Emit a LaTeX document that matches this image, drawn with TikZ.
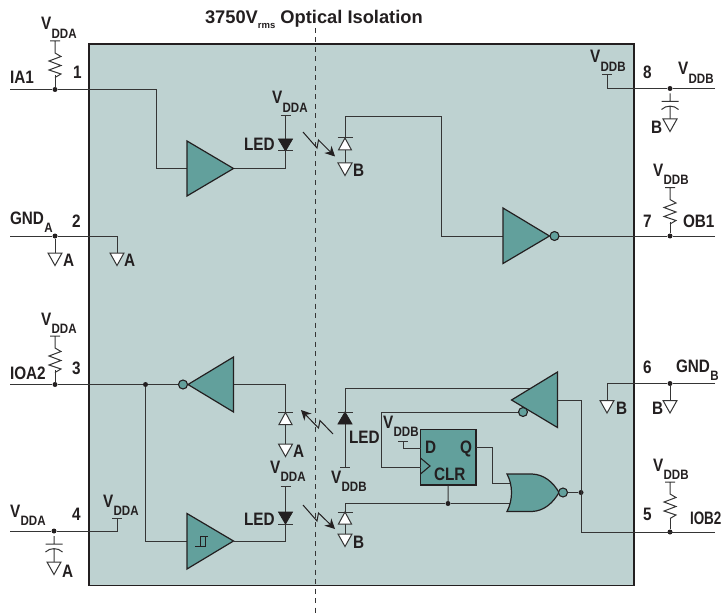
\documentclass[tikz,border=0pt]{standalone}
\usepackage{fontspec}
\setmainfont{Liberation Sans}
\newfontfamily\narrowf{Liberation Sans}[FakeStretch=0.85]
\usetikzlibrary{arrows.meta}
\definecolor{panel}{HTML}{BED2D1}
\definecolor{teal}{HTML}{62A09C}
\definecolor{ink}{HTML}{231F20}
\definecolor{wirec}{HTML}{353535}
\newcommand{\Vsub}[2]{#1{\fontsize{13.6}{15}\selectfont\kern0.4pt\raisebox{-8.5pt}{#2}}}
\tikzset{
  lab/.style={anchor=base west,inner sep=0pt,outer sep=0pt,text=ink,font=\narrowf\bfseries\fontsize{18}{19}\selectfont},
  ttl/.style={anchor=base west,inner sep=0pt,outer sep=0pt,text=ink,font=\bfseries\fontsize{18.3}{19}\selectfont},
  wire/.style={draw=wirec,line width=1pt,line join=miter},
  gate/.style={draw=ink,fill=teal,line width=1.2pt,line join=miter},
  dotm/.style={circle,fill=ink,inner sep=0pt,minimum size=5pt},
  bub/.style={circle,draw=ink,fill=teal,line width=1.1pt,inner sep=0pt,minimum size=9pt},
  lit/.style={draw=ink,line width=1pt,-{Stealth[length=10pt,width=10pt]}},
  railbar/.pic={\draw[wire] (-5,0) -- (5,0);},
  gndtri/.pic={\draw[draw=wirec,line width=1pt,fill=white,line join=miter] (-7,0) -- (7,0) -- (0,12.5) -- cycle;},
  resist/.pic={\draw[wire] (-5,0) -- (5,0) (0,0) -- (0,12) -- (6,15.5) -- (-6,20) -- (6,24.5) -- (-6,29) -- (6,33) -- (0,36.5);},
  capac/.pic={\draw[draw=wirec,line width=1pt] (-8.5,0) -- (8.5,0) (0,-8) -- (0,0) (-8.5,8) .. controls (-4,3.5) and (4,3.5) .. (8.5,8) (0,4.5) -- (0,18);},
  ledup/.pic={\draw[draw=ink,fill=ink,line width=.8pt] (-7,12) -- (7,12) -- (0,0) -- cycle; \draw[draw=wirec,line width=1pt] (-7.5,0) -- (7.5,0);},
  leddn/.pic={\draw[draw=ink,fill=ink,line width=.8pt] (-7,0) -- (7,0) -- (0,12) -- cycle; \draw[draw=wirec,line width=1pt] (-7.5,12) -- (7.5,12);},
  phot/.pic={\draw[draw=wirec,line width=1pt,fill=white] (-6.5,12) -- (6.5,12) -- (0,0) -- cycle; \draw[draw=wirec,line width=1pt] (-7.5,0) -- (7.5,0);}
}
\begin{document}
\begin{tikzpicture}[x=1pt,y=-1pt]
\useasboundingbox (0,0) rectangle (723,615);
% panel
\draw[draw=ink,fill=panel,line width=1.3pt] (89,44) rectangle (634,585.5);
\coordinate (isoT) at (315,28);
\coordinate (isoB) at (315,615);
\draw[draw=wirec,line width=1pt,dash pattern=on 5pt off 4.5pt] (isoT) -- (isoB);

% terminals
\coordinate (p1) at (10,89.5);
\coordinate (p2) at (10,236);
\coordinate (p3) at (10,384.5);
\coordinate (p4) at (10,531);
\coordinate (p8) at (715,88.5);
\coordinate (p7) at (715,236);
\coordinate (p6) at (715,383.5);
\coordinate (p5) at (715,532);

% dots
\node[dotm] (d1) at (55,89.5) {};
\node[dotm] (d2) at (55,236) {};
\node[dotm] (d3) at (55,384.5) {};
\node[dotm] (d3b) at (145.5,384.5) {};
\node[dotm] (d4) at (54,531) {};
\node[dotm] (d8) at (670,88.5) {};
\node[dotm] (d7) at (670,236) {};
\node[dotm] (d6) at (670,383.5) {};
\node[dotm] (d5) at (670,532) {};
\node[dotm] (dq) at (448,503.5) {};
\node[dotm] (dn) at (581,492.5) {};

% rails
\coordinate (r1) at (55,41);
\coordinate (r3) at (55,336);
\coordinate (rled1) at (285.5,115.5);
\coordinate (rled2) at (285.5,486);
\coordinate (r4in) at (117,518);
\coordinate (r8in) at (607,75);
\coordinate (r7) at (670,187.5);
\coordinate (r5) at (670,482);
\coordinate (rledb) at (345,467);
\coordinate (rff) at (403,441);

% grounds
\coordinate (g2) at (55,253);
\coordinate (g2in) at (117,253);
\coordinate (g6in) at (607,400.5);
\coordinate (g6) at (670,400.5);
\coordinate (gp1) at (345,163);
\coordinate (gp2) at (285.5,444);
\coordinate (gp3) at (345,534);
\coordinate (c8) at (670,101.5);
\coordinate (c4) at (54,544);

% gate terminals
\coordinate (b1in) at (187,168.5);
\coordinate (b1out) at (233.5,168.5);
\coordinate (i1in) at (503,236);
\coordinate (i2out) at (233.5,384.5);
\coordinate (b2in) at (187,541);
\coordinate (b2out) at (233.5,541);
\coordinate (i3in) at (531,388);
\coordinate (i3out) at (557.5,400);
\coordinate (norA) at (510,483);
\coordinate (norB) at (510,503.5);

% flip-flop
\node[gate,rectangle,minimum width=55.5pt,minimum height=55.5pt,inner sep=0pt] (ff) at (448.2,457.2) {};
\coordinate (ffD) at (420.5,448);
\coordinate (ffQ) at (476,447.5);
\coordinate (ffC) at (420.5,467);

% wires
\draw[wire] (p1) -- (d1) -- (156.5,89.5) -- (156.5,168.5) -- (b1in);
\draw[wire] (b1out) -- (285.5,168.5) -- (rled1);
\draw[wire] (345,163) -- (345,117) -- (441,117) -- (441,236) -- (i1in);
\draw[wire] (p7) -- (d7) -- (555,236);
\draw[wire] (p2) -- (d2) -- (117,236) -- (g2in);
\draw[wire] (d2) -- (g2);
\draw[wire] (p3) -- (d3) -- (d3b) -- (183,384.5);
\draw[wire] (d3b) -- (145.5,541) -- (b2in);
\draw[wire] (i2out) -- (285.5,384.5) -- (gp2);
\draw[wire] (b2out) -- (285.5,541) -- (rled2);
\draw[wire] (p4) -- (d4) -- (117,531) -- (r4in);
\draw[wire] (p8) -- (d8) -- (607,88.5) -- (r8in);
\draw[wire] (p6) -- (d6) -- (607,383.5) -- (g6in);
\draw[wire] (d6) -- (g6);
\draw[wire] (rledb) -- (345,388) -- (i3in);
\draw[wire] (523,412) -- (381.5,412) -- (381.5,467) -- (ffC);
\draw[wire] (ffD) -- (403,448) -- (rff);
\draw[wire] (ffQ) -- (492.5,447.5) -- (492.5,483) -- (norA);
\draw[wire] (ff.south) -- (dq);
\draw[wire] (gp3) -- (345,503.5) -- (dq) -- (norB);
\draw[wire] (i3out) -- (581,400) -- (581,532) -- (p5);
\draw[wire] (563,492.5) -- (dn);
\draw[wire] (d1) -- (55,75);
\draw[wire] (d3) -- (55,370);
\draw[wire] (d7) -- (670,222);
\draw[wire] (d5) -- (670,518);

% rails and parts
\pic at (r1) {resist};
\pic at (r3) {resist};
\pic at (r7) {resist};
\pic at (r5) {resist};
\pic at (rled1) {railbar};
\pic at (rled2) {railbar};
\pic at (r4in) {railbar};
\pic at (r8in) {railbar};
\pic at (rledb) {railbar};
\pic at (rff) {railbar};
\pic at (c8) {capac};
\pic at (c4) {capac};
\pic at (g2) {gndtri};
\pic at (g2in) {gndtri};
\pic at (g6in) {gndtri};
\pic at (g6) {gndtri};
\pic at (gp1) {gndtri};
\pic at (gp2) {gndtri};
\pic at (gp3) {gndtri};
\pic at (54,562) {gndtri};
\pic at (670,119) {gndtri};
\pic at (285.5,139) {leddn};
\pic at (285.5,512) {leddn};
\pic at (345,412) {ledup};
\pic at (345,138) {phot};
\pic at (285.5,412.5) {phot};
\pic at (345,512) {phot};

% light arrows
\coordinate (a1t) at (303,132); \coordinate (a1h) at (335,156.5);
\coordinate (a2t) at (333,434); \coordinate (a2h) at (301,410);
\coordinate (a3t) at (303,505); \coordinate (a3h) at (335,529);
\draw[lit] (a1t) -- (317,148) -- (318.5,140) -- (a1h);
\draw[lit] (a2t) -- (320,420.5) -- (318.5,428) -- (a2h);
\draw[lit] (a3t) -- (317,521) -- (318.5,513) -- (a3h);

% gates
\draw[gate] (b1in) -- (187,141) -- (b1out) -- (187,196) -- cycle;
\draw[gate] (i1in) -- (503,208) -- (549.5,236) -- (503,263.5) -- cycle;
\draw[gate] (i2out) -- (233.5,357) -- (188,384.5) -- (233.5,412) -- cycle;
\draw[gate] (b2in) -- (187,513.5) -- (b2out) -- (187,569) -- cycle;
\draw[gate] (557.5,372) -- (511.5,400) -- (557.5,427.5) -- cycle;
\draw[gate] (507,474) .. controls (513,485) and (513,500) .. (507,511.5)
  -- (532,511.5) .. controls (544,511) and (553,503) .. (559,492.5)
  .. controls (553,482) and (544,474.5) .. (532,474) -- cycle;
\draw[draw=ink,line width=1pt] (195,546.5) -- (205,546.5) -- (205,536) -- (200,536) -- (200,546.5) (205,536) -- (208,536);
\draw[draw=ink,line width=1.1pt,line join=miter] (420.5,458) -- (430,466) -- (420.5,474);
\node[bub] (bi1) at (554.5,236) {};
\node[bub] (bi2) at (183,384.5) {};
\node[bub] (bi3) at (523,412) {};
\node[bub] (bnor) at (563,492.5) {};

% labels
\node[ttl] (title) at (205,24) {3750V{\fontsize{9.5}{10}\selectfont\raisebox{-5pt}{rms}} Optical Isolation};
\node[lab] (t1) at (41,30) {\Vsub{V}{DDA}};
\node[lab] (t2) at (73,79) {1};
\node[lab] (t3) at (10,84) {IA1};
\node[lab] (t4) at (272,104) {\Vsub{V}{DDA}};
\node[lab] (t5) at (244,151) {LED};
\node[lab] (t6) at (353,177) {B};
\node[lab] (t7) at (10,224) {\Vsub{GND}{A}};
\node[lab] (t8) at (72,227) {2};
\node[lab] (t9) at (63,266) {A};
\node[lab] (t10) at (124,266) {A};
\node[lab] (t11) at (590,63) {\Vsub{V}{DDB}};
\node[lab] (t12) at (643,79) {8};
\node[lab] (t13) at (678,75) {\Vsub{V}{DDB}};
\node[lab] (t14) at (651,134) {B};
\node[lab] (t15) at (653,176) {\Vsub{V}{DDB}};
\node[lab] (t16) at (643,227) {7};
\node[lab] (t17) at (683,227) {OB1};
\node[lab] (t18) at (41,325) {\Vsub{V}{DDA}};
\node[lab] (t19) at (72,374) {3};
\node[lab] (t20) at (10,379) {IOA2};
\node[lab] (t21) at (293,457) {A};
\node[lab] (t22) at (270,473) {\Vsub{V}{DDA}};
\node[lab] (t23) at (244,525) {LED};
\node[lab] (t24) at (10,517) {\Vsub{V}{DDA}};
\node[lab] (t25) at (72,520) {4};
\node[lab] (t26) at (103,507) {\Vsub{V}{DDA}};
\node[lab] (t27) at (62,577) {A};
\node[lab] (t28) at (349,443) {LED};
\node[lab] (t29) at (331,483) {\Vsub{V}{DDB}};
\node[lab] (t30) at (383,428) {\Vsub{V}{DDB}};
\node[lab] (t31) at (425,453) {D};
\node[lab] (t32) at (460,453) {Q};
\node[lab] (t33) at (434,480) {CLR};
\node[lab] (t34) at (353,548) {B};
\node[lab] (t35) at (643,373) {6};
\node[lab] (t36) at (676,372) {\Vsub{GND}{B}};
\node[lab] (t37) at (616,414) {B};
\node[lab] (t38) at (652,414) {B};
\node[lab] (t39) at (653,471) {\Vsub{V}{DDB}};
\node[lab] (t40) at (643,520) {5};
\node[lab] (t41) at (690,524) {\scalebox{0.88}[1]{IOB2}};
\end{tikzpicture}
\end{document}
